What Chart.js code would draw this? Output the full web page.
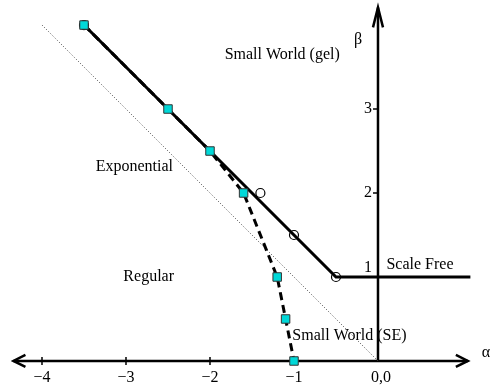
<!DOCTYPE html>
<html>
<head>
<meta charset="utf-8">
<script src="https://cdn.jsdelivr.net/npm/chart.js@4"></script>
<style>
  html, body { margin: 0; padding: 0; background: #fff; }
  #phase { display: block; }
</style>
</head>
<body>
<canvas id="phase" width="495" height="385"></canvas>
<script>
// phase boundaries
const solidX = [-3.5, -0.5, 1.1];
const solidY = [4, 1, 1];
const circleX = [-3.5, -1.4, -1, -0.5];
const circleY = [4, 2, 1.5, 1];
const squareX = [-3.5, -2.5, -2, -1.6, -1.2, -1.1, -1];
const squareY = [4, 3, 2.5, 2, 1, 0.5, 0];
const dotX = [-4, 0];
const dotY = [4, 0];

const xTicks = [-4, -3, -2, -1];
const xTickLabels = ['\u22124', '\u22123', '\u22122', '\u22121'];
const yTicks = [1, 2, 3];
const yTickLabels = ['1', '2', '3'];

// region labels [text, alpha, beta]
const regionLabels = [
    ['Small World (gel)', -1.14, 3.64],
    ['Exponential', -2.9, 2.31],
    ['Regular', -2.73, 1.0],
    ['Scale Free', 0.5, 1.15],
    ['Small World (SE)', -0.34, 0.3]
];

const toPts = (xs, ys) => xs.map((x, i) => ({ x: x, y: ys[i] }));
const serif = '16px "Liberation Serif", "Times New Roman", serif';

const axesPlugin = {
    id: 'axes',
    beforeDatasetsDraw(chart) {
        const c = chart.ctx;
        const xs = chart.scales.x, ys = chart.scales.y;
        const x0 = xs.getPixelForValue(0), y0 = ys.getPixelForValue(0);
        const left = xs.getPixelForValue(-4.34), right = xs.getPixelForValue(1.07);
        const top = ys.getPixelForValue(4.21);
        c.save();
        c.strokeStyle = '#000';
        c.lineWidth = 2.5;
        c.lineCap = 'butt';
        c.beginPath();
        c.moveTo(left, y0); c.lineTo(right, y0);
        c.moveTo(x0, y0); c.lineTo(x0, top);
        c.stroke();
        // arrow heads
        c.beginPath();
        c.moveTo(left + 12, y0 - 6); c.lineTo(left, y0); c.lineTo(left + 12, y0 + 6);
        c.moveTo(right - 12, y0 - 6); c.lineTo(right, y0); c.lineTo(right - 12, y0 + 6);
        c.moveTo(x0 - 5, top + 20); c.lineTo(x0, top); c.lineTo(x0 + 5, top + 20);
        c.stroke();
        // ticks
        c.lineWidth = 1.5;
        c.beginPath();
        xTicks.forEach(t => {
            const px = xs.getPixelForValue(t);
            c.moveTo(px, y0 - 4); c.lineTo(px, y0 + 4);
        });
        yTicks.forEach(t => {
            const py = ys.getPixelForValue(t);
            c.moveTo(x0 - 5, py); c.lineTo(x0, py);
        });
        c.stroke();
        c.restore();
    },
    afterDraw(chart) {
        const c = chart.ctx;
        const xs = chart.scales.x, ys = chart.scales.y;
        const x0 = xs.getPixelForValue(0), y0 = ys.getPixelForValue(0);
        c.save();
        c.fillStyle = '#000';
        c.font = serif;
        c.textAlign = 'center';
        c.textBaseline = 'middle';
        xTicks.forEach((t, i) => {
            c.fillText(xTickLabels[i], xs.getPixelForValue(t), y0 + 17);
        });
        c.fillText('0,0', x0 + 3, y0 + 17);
        c.textAlign = 'right';
        yTicks.forEach((t, i) => {
            // the 1 sits above the Scale Free line
            const off = t === 1 ? -9 : 0;
            c.fillText(yTickLabels[i], x0 - 6, ys.getPixelForValue(t) + off);
        });
        c.textAlign = 'center';
        c.fillText('\u03b2', x0 - 20, ys.getPixelForValue(3.82));
        c.fillText('\u03b1', 486, y0 - 8);
        regionLabels.forEach(([txt, a, b]) => {
            c.fillText(txt, xs.getPixelForValue(a), ys.getPixelForValue(b));
        });
        c.restore();
    }
};

new Chart(document.getElementById('phase'), {
    type: 'scatter',
    data: {
        datasets: [
            {
                label: 'SE boundary',
                data: toPts(squareX, squareY),
                showLine: true,
                borderColor: '#000',
                borderWidth: 3,
                borderDash: [8, 5],
                pointStyle: 'rect',
                pointRadius: 6,
                pointBackgroundColor: '#00d8d8',
                pointBorderColor: '#333',
                pointBorderWidth: 1,
                clip: false,
                order: 0
            },
            {
                label: 'circles',
                data: toPts(circleX, circleY),
                showLine: false,
                pointStyle: 'circle',
                pointRadius: 4.5,
                pointBackgroundColor: 'rgba(0,0,0,0)',
                pointBorderColor: '#000',
                pointBorderWidth: 1.2,
                clip: false,
                order: 1
            },
            {
                label: 'gel boundary',
                data: toPts(solidX, solidY),
                showLine: true,
                borderColor: '#000',
                borderWidth: 3,
                pointRadius: 0,
                clip: false,
                order: 2
            },
            {
                label: 'diagonal',
                data: toPts(dotX, dotY),
                showLine: true,
                borderColor: '#444',
                borderWidth: 1,
                borderDash: [1, 2],
                pointRadius: 0,
                clip: false,
                order: 3
            }
        ]
    },
    options: {
        responsive: false,
        animation: false,
        devicePixelRatio: 1,
        layout: { padding: 0, autoPadding: false },
        plugins: {
            legend: { display: false },
            tooltip: { enabled: false }
        },
        scales: {
            x: { type: 'linear', min: -4.5, max: 1.393, display: false },
            y: { type: 'linear', min: -0.286, max: 4.298, display: false }
        }
    },
    plugins: [axesPlugin]
});
</script>
</body>
</html>
